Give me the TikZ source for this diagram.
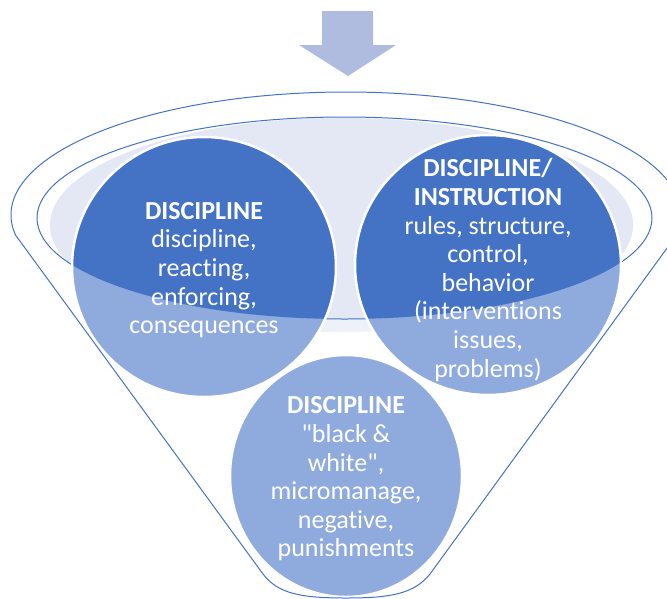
\documentclass[tikz,border=0pt]{standalone}
\usepackage{fontspec}
\setmainfont{Carlito}[Ligatures={NoCommon}]
\definecolor{darkb}{HTML}{4472C4}
\definecolor{lightb}{HTML}{8FAADC}
\definecolor{pale}{HTML}{E3E8F4}
\definecolor{paler}{HTML}{EEF1F8}
\definecolor{arrowc}{HTML}{AFBCE0}
\tikzset{
  outl/.style={draw=darkb, line width=1pt},
  bubble/.style={fill=lightb},
  bubbleedge/.style={draw=white, line width=2.5pt},
  txt/.style={text=white, align=center, font=\fontsize{26}{28.6}\selectfont, inner sep=0pt},
}
\begin{document}
\begin{tikzpicture}[x=1pt,y=-1pt]
\useasboundingbox (0,0) rectangle (667,598);
% arrow
\fill[arrowc] (322,11) -- (373,11) -- (373,45) -- (396,45) -- (348,76) -- (299,45) -- (322,45) -- cycle;
% light fill of funnel mouth
\fill[paler] (341.5,225) ellipse [x radius=291.5, y radius=107];
\begin{scope}
  \clip (344.5,218) ellipse [x radius=307.5, y radius=101];
  \fill[pale] (341.5,225) ellipse [x radius=291.5, y radius=107];
\end{scope}
% inner ring outline
\draw[outl] (344.5,218) ellipse [x radius=307.5, y radius=101];
% circles (light)
\fill[bubble] (204,267) ellipse [x radius=132, y radius=130];
\fill[bubble] (488,265) ellipse [x radius=133, y radius=130];
\fill[bubble] (346,476) ellipse [x radius=116, y radius=121];
% dark parts inside the mouth
\begin{scope}
  \clip (344.5,218) ellipse [x radius=307.5, y radius=101];
  \fill[darkb] (204,267) ellipse [x radius=132, y radius=130];
  \fill[darkb] (488,265) ellipse [x radius=133, y radius=130];
\end{scope}
% white edges
\draw[bubbleedge] (204,267) ellipse [x radius=132, y radius=130];
\draw[bubbleedge] (488,265) ellipse [x radius=133, y radius=130];
\draw[bubbleedge] (346,476) ellipse [x radius=116, y radius=121];
% funnel outline
\draw[outl] (15.5,235) arc[start angle=170.64, end angle=369.36, x radius=335, y radius=123]
  -- (430,574) .. controls (414,594) and (390,598) .. (346,598)
  .. controls (302,598) and (278,594) .. (263,574) -- cycle;
% texts
\node[txt] (left) at (204,270) {\textbf{DISCIPLINE}\\discipline,\\reacting,\\enforcing,\\consequences};
\node[txt] (right) at (488,270) {\textbf{DISCIPLINE/}\\\textbf{INSTRUCTION}\\rules, structure,\\control,\\behavior\\(interventions\\issues,\\problems)};
\node[txt] (bottom) at (346,479) {\textbf{DISCIPLINE}\\\textquotedbl black \&\\white\textquotedbl,\\micromanage,\\negative,\\punishments};
\end{tikzpicture}
\end{document}
